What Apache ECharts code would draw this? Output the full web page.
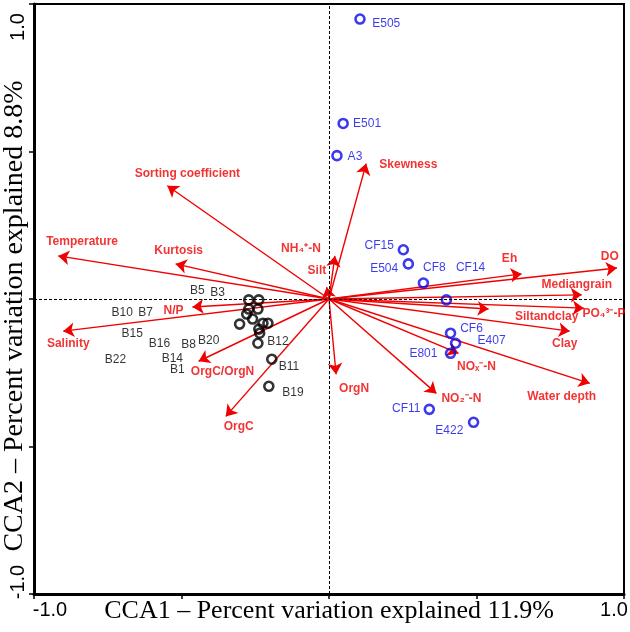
<!DOCTYPE html>
<html>
<head>
<meta charset="utf-8">
<script src="https://cdn.jsdelivr.net/npm/echarts@6/dist/echarts.min.js"></script>
<style>
  html, body { margin: 0; padding: 0; background: #fff; }
  #main { width: 630px; height: 632px; }
</style>
</head>
<body>
<div id="main"></div>
<script>
// environmental variables (arrow tips) and where their labels sit
const envNames = ['Sorting coefficient', 'Temperature', 'Kurtosis', 'NH\u2084\u207A-N', 'Silt', 'N/P', 'Salinity',
  'OrgC/OrgN', 'OrgC', 'OrgN', 'Skewness', 'Eh', 'DO', 'Mediangrain', 'Siltandclay', 'PO\u2084\u00B3\u207B-P',
  'Clay', 'NO\u2093\u207B-N', 'NO\u2082\u207B-N', 'Water depth'];
const envX = [-0.548, -0.918, -0.520, 0.020, -0.008, -0.463, -0.901, -0.442, -0.350, 0.024, 0.126, 0.653, 0.976,
  0.857, 0.541, 0.864, 0.816, 0.439, 0.364, 0.884];
const envY = [0.384, 0.146, 0.119, 0.146, 0.040, -0.027, -0.109, -0.211, -0.398, -0.255, 0.459, 0.085, 0.105,
  0.014, -0.034, -0.031, -0.109, -0.184, -0.320, -0.286];
const envLabelX = [-0.480, -0.837, -0.510, -0.095, -0.041, -0.527, -0.884, -0.361, -0.306, 0.085, 0.269, 0.612, 0.952,
  0.840, 0.738, 0.932, 0.799, 0.500, 0.449, 0.789];
const envLabelY = [0.425, 0.194, 0.163, 0.170, 0.095, -0.041, -0.153, -0.245, -0.432, -0.303, 0.456, 0.136, 0.143,
  0.048, -0.061, -0.051, -0.153, -0.228, -0.337, -0.330];

// sites E / CF / A (blue)
const blueNames = ['E505', 'E501', 'A3', 'CF15', 'E504', 'CF8', 'CF14', 'CF6', 'E407', 'E801', 'CF11', 'E422'];
const blueX = [0.105, 0.048, 0.027, 0.252, 0.269, 0.320, 0.398, 0.412, 0.429, 0.412, 0.340, 0.490];
const blueY = [0.949, 0.595, 0.486, 0.167, 0.119, 0.054, -0.003, -0.116, -0.150, -0.184, -0.374, -0.418];
const blueLabelX = [0.194, 0.129, 0.088, 0.170, 0.187, 0.357, 0.480, 0.483, 0.551, 0.320, 0.262, 0.408];
const blueLabelY = [0.932, 0.595, 0.483, 0.180, 0.102, 0.105, 0.105, -0.102, -0.143, -0.187, -0.371, -0.446];

// sites B (black)
const blackX = [-0.272, -0.238, -0.272, -0.241, -0.279, -0.259, -0.303, -0.238, -0.224, -0.207, -0.235, -0.241, -0.194, -0.204];
const blackY = [-0.003, -0.003, -0.034, -0.034, -0.051, -0.068, -0.085, -0.102, -0.082, -0.082, -0.116, -0.150, -0.204, -0.296];
const blackNames = ['B5', 'B3', 'B10', 'B7', 'B15', 'B16', 'B8', 'B20', 'B22', 'B14', 'B1', 'B12', 'B11', 'B19'];
const blackLabelX = [-0.446, -0.378, -0.701, -0.622, -0.667, -0.575, -0.476, -0.408, -0.724, -0.531, -0.514, -0.173, -0.136, -0.122];
const blackLabelY = [0.027, 0.020, -0.048, -0.048, -0.116, -0.153, -0.156, -0.143, -0.207, -0.204, -0.238, -0.146, -0.228, -0.316];

const xTicks = [-1, -0.5, 0, 0.5, 1];
const yTicks = [-1, -0.5, 0, 0.5, 1];

const RED = '#f00000';
const BLUE = '#0a0ae6';
const SANS = 'Liberation Sans, Arial, sans-serif';
const SERIF = 'Liberation Serif, Times New Roman, serif';

let chart = echarts.init(document.getElementById('main'));

function labelSeries(names, xs, ys, color, bold) {
  return {
    type: 'scatter',
    symbolSize: 0,
    silent: true,
    z: 5,
    data: names.map((n, i) => ({ name: n, value: [xs[i], ys[i]] })),
    label: {
      show: true,
      position: 'inside',
      formatter: '{b}',
      color: color,
      fontFamily: SANS,
      fontSize: 12,
      fontWeight: bold ? 'bold' : 'normal'
    }
  };
}

chart.setOption({
  animation: false,
  grid: {
    left: 34, right: 6, top: 4, bottom: 38,
    outerBoundsMode: 'none',
    containLabel: false,
    show: true, borderColor: '#000', borderWidth: 2
  },
  xAxis: {
    type: 'value',
    min: xTicks[0], max: xTicks[xTicks.length - 1], interval: 0.5,
    splitLine: { show: false },
    axisLine: { onZero: false, lineStyle: { color: '#000', width: 3 } },
    axisTick: { length: 5, lineStyle: { color: '#000', width: 1.5 } },
    axisLabel: {
      margin: 6,
      formatter: v => v === -1 ? '{l|-1.0}' : (v === 1 ? '{r|1.0}' : ''),
      rich: {
        l: { fontFamily: SANS, fontSize: 20, color: '#000', padding: [0, 0, 0, 32] },
        r: { fontFamily: SANS, fontSize: 20, color: '#000', padding: [0, 20, 0, 0] }
      }
    },
    name: 'CCA1 \u2013 Percent variation explained 11.9%',
    nameLocation: 'middle',
    nameMoveOverlap: false,
    nameGap: 4,
    nameTextStyle: { fontFamily: SERIF, fontSize: 26, color: '#000' }
  },
  yAxis: {
    type: 'value',
    min: yTicks[0], max: yTicks[yTicks.length - 1], interval: 0.5,
    splitLine: { show: false },
    axisLine: { onZero: false, lineStyle: { color: '#000', width: 3 } },
    axisTick: { length: 5, lineStyle: { color: '#000', width: 1.5 } },
    axisLabel: {
      rotate: 90,
      margin: 6,
      formatter: v => v === 1 ? '{t|1.0}' : (v === -1 ? '{b|-1.0}' : ''),
      rich: {
        t: { fontFamily: SANS, fontSize: 20, color: '#000', padding: [0, 46, 0, 0] },
        b: { fontFamily: SANS, fontSize: 20, color: '#000', padding: [0, 0, 0, 24] }
      }
    },
    name: 'CCA2 \u2013 Percent variation explained 8.8%',
    nameLocation: 'middle',
    nameRotate: 90,
    nameMoveOverlap: false,
    nameGap: 5,
    nameTextStyle: { fontFamily: SERIF, fontSize: 28, color: '#000', padding: [0, 34, 0, 0] }
  },
  series: [
    {
      // environmental arrows from origin
      type: 'lines',
      coordinateSystem: 'cartesian2d',
      silent: true,
      z: 3,
      symbol: ['none', 'arrow'],
      symbolSize: 11,
      lineStyle: { color: RED, width: 1.4, opacity: 1, curveness: 0 },
      data: envX.map((x, i) => ({ coords: [[0, 0], [x, envY[i]]] })),
      markLine: {
        silent: true,
        symbol: ['none', 'none'],
        label: { show: false },
        lineStyle: { color: '#000', width: 1, type: [3, 2] },
        data: [{ xAxis: 0 }, { yAxis: 0 }]
      }
    },
    labelSeries(envNames, envLabelX, envLabelY, RED, true),
    {
      type: 'scatter',
      symbol: 'circle',
      symbolSize: 9,
      z: 4,
      itemStyle: { color: 'rgba(0,0,0,0)', borderColor: BLUE, borderWidth: 2.6 },
      data: blueX.map((x, i) => [x, blueY[i]])
    },
    {
      type: 'scatter',
      symbol: 'circle',
      symbolSize: 9,
      z: 4,
      itemStyle: { color: 'rgba(0,0,0,0)', borderColor: '#000', borderWidth: 2.6 },
      data: blackX.map((x, i) => [x, blackY[i]])
    },
    labelSeries(blueNames, blueLabelX, blueLabelY, BLUE, false),
    labelSeries(blackNames, blackLabelX, blackLabelY, '#000', false)
  ]
});
</script>
</body>
</html>
